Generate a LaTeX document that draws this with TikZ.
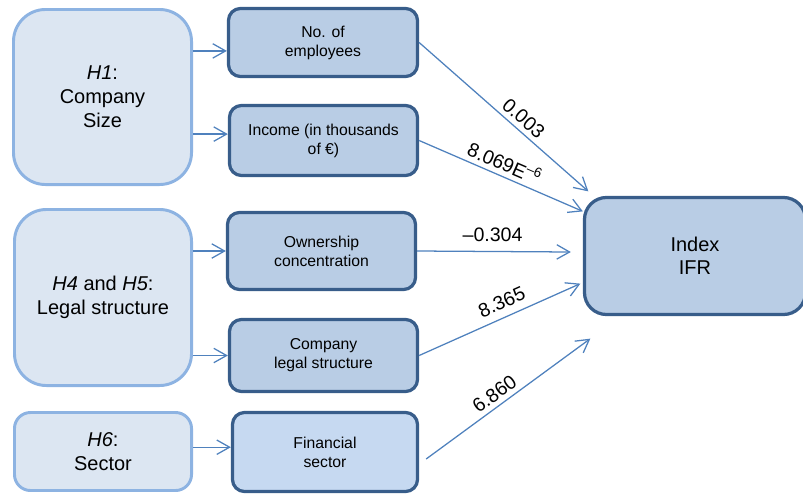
\documentclass[tikz,border=0pt]{standalone}
\usepackage{fontspec}
\setmainfont{Liberation Sans}
\usetikzlibrary{arrows.meta, calc}
\definecolor{hypfill}{HTML}{DCE6F2}
\definecolor{hypline}{HTML}{8DB3E2}
\definecolor{varfill}{HTML}{B9CDE5}
\definecolor{varline}{HTML}{385D8A}
\definecolor{secfill}{HTML}{C6D9F1}
\definecolor{linkblue}{HTML}{4F81BD}
\tikzset{
  hypbox/.style={draw=hypline, fill=hypfill, line width=2.1pt, rounded corners=#1, align=center, inner sep=0pt, font=\fontsize{14.2}{17.1}\selectfont},
  hypbox/.default=0.8cm,
  varbox/.style={draw=varline, fill=varfill, line width=2.3pt, rounded corners=0.3cm, align=center, inner sep=0pt, font=\fontsize{11.2}{13.5}\selectfont},
  link/.style={-{Straight Barb[length=3.2mm, width=3.6mm]}, draw=linkblue, line width=0.9pt},
  coef/.style={sloped, above, font=\fontsize{13.9}{16}\selectfont},
}

\begin{document}
\begin{tikzpicture}[x=0.025cm, y=-0.025cm,
  outbox/.style={draw=varline, fill=varfill, line width=2.3pt, rounded corners=0.55cm, align=center, inner sep=0pt, font=\fontsize{14.2}{16.4}\selectfont}]
  \useasboundingbox (0,0) rectangle (803,495);
  % hypotheses (left column)
  \node[hypbox, minimum width=4.45cm, minimum height=4.375cm] (h1) at (102.5,97) {\textit{H1}:\\Company\\Size};
  \node[hypbox, minimum width=4.425cm, minimum height=4.4cm] (h45) at (103,297.5) {\textit{H4} and \textit{H5}:\\Legal structure};
  \node[hypbox=0.4cm, minimum width=4.425cm, minimum height=1.95cm] (h6) at (103,451.5) {\textit{H6}:\\Sector};
  % variables (middle column)
  \node[varbox, minimum width=4.725cm, minimum height=1.7cm] (emp) at (323,42.5) {No. of\\employees};
  \node[varbox, minimum width=4.7cm, minimum height=1.75cm] (inc) at (323.5,140.5) {Income (in thousands\\of €)};
  \node[varbox, minimum width=4.7cm, minimum height=1.925cm] (own) at (321.5,251) {Ownership\\concentration};
  \node[varbox, minimum width=4.7cm, minimum height=1.8cm] (legal) at (323.5,355.5) {Company\\legal structure};
  \node[varbox, fill=secfill, minimum width=4.625cm, minimum height=1.975cm] (fin) at (325,452) {Financial\\sector};
  % dependent variable
  \node[outbox, minimum width=5.525cm, minimum height=2.925cm] (ifr) at (695,256) {Index\\IFR};
  % hypothesis -> variable
  \draw[link] ([yshift=-0.21cm]emp.west -| h1.east) -- ([yshift=-0.21cm]emp.west);
  \draw[link] ([yshift=0.16cm]inc.west -| h1.east) -- ([yshift=0.16cm]inc.west);
  \draw[link] (own.west -| h45.east) -- (own.west);
  \draw[link] (legal.west -| h45.east) -- (legal.west);
  \draw[link] ([yshift=0.12cm]fin.west -| h6.east) -- ([yshift=0.12cm]fin.west);
  % variable -> index, with coefficients
  \draw[link] (emp.east) -- ($(ifr.north west)+(5.5,-4.5)$) node[coef, pos=0.57] {0.003};
  \draw[link] (inc.east) -- ($(ifr.north west)+(0,15.5)$) node[coef, pos=0.49] {8.069E\textsuperscript{–6}};
  \draw[link] (own.east) -- ($(ifr.west)+(-12,-4)$) node[coef, pos=0.49, above=3pt] {–0.304};
  \draw[link] (legal.east) -- ($(ifr.south west)+(-2.5,-32.5)$) node[coef, pos=0.55, above=2pt] {8.365};
  \draw[link] ($(fin.east)+(7,7)$) -- ($(ifr.south west)+(7.5,22.5)$) node[coef, pos=0.46] {6.860};
\end{tikzpicture}
\end{document}
